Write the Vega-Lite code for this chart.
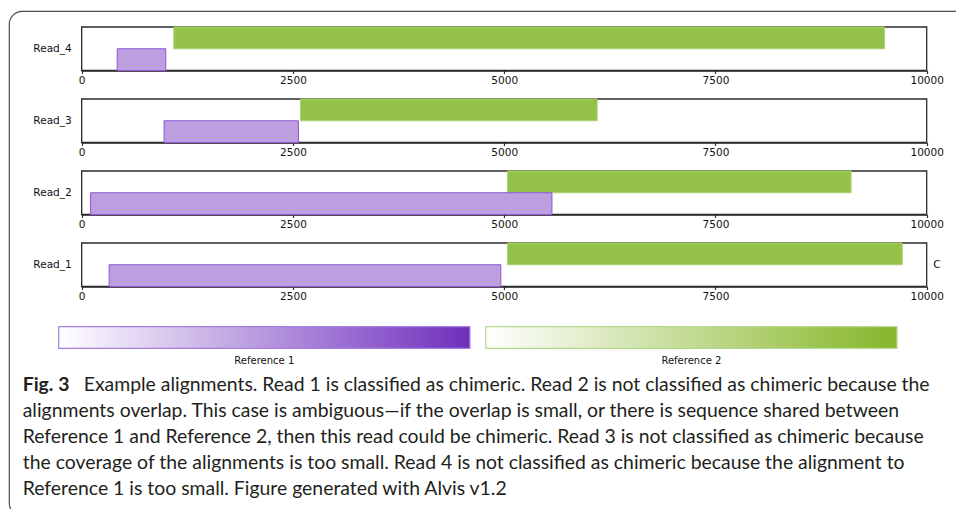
{
  "$schema": "https://vega.github.io/schema/vega-lite/v6.json",
  "description": "Example alignments of four reads against two references, with reference colour ramps and the figure caption.",
  "width": 960,
  "height": 505,
  "autosize": {"type": "none"},
  "padding": {"left": 9, "top": 11, "right": -13, "bottom": -7},
  "background": "white",
  "config": {
    "view": {"stroke": "#4d4d4d", "strokeWidth": 1.2, "cornerRadius": 13},
    "axis": {
      "domainColor": "#2b2b2b",
      "domainWidth": 1.3,
      "tickColor": "#2b2b2b",
      "tickSize": 3,
      "tickWidth": 1.2,
      "labelFont": "DejaVu Sans",
      "labelFontSize": 10.5,
      "labelColor": "#111111",
      "labelPadding": 2,
      "labelFlush": false,
      "grid": false,
      "title": null
    },
    "text": {"font": "DejaVu Sans", "fontSize": 10.5, "color": "#111111"}
  },
  "datasets": {
    "reads": [
      {"read": "Read_4"},
      {"read": "Read_3"},
      {"read": "Read_2"},
      {"read": "Read_1", "tag": "C"}
    ],
    "alignments": [
      {"read": "Read_4", "reference": "Reference 2", "start": 1090, "end": 9500},
      {"read": "Read_4", "reference": "Reference 1", "start": 420, "end": 995},
      {"read": "Read_3", "reference": "Reference 2", "start": 2590, "end": 6100},
      {"read": "Read_3", "reference": "Reference 1", "start": 975, "end": 2565},
      {"read": "Read_2", "reference": "Reference 2", "start": 5040, "end": 9105},
      {"read": "Read_2", "reference": "Reference 1", "start": 105, "end": 5565},
      {"read": "Read_1", "reference": "Reference 2", "start": 5040, "end": 9710},
      {"read": "Read_1", "reference": "Reference 1", "start": 325, "end": 4960}
    ],
    "references": [
      {"reference": "Reference 1"},
      {"reference": "Reference 2"}
    ],
    "caption": [
      {"line": 1, "lead": "Fig. 3", "text": "Example alignments. Read 1 is classified as chimeric. Read 2 is not classified as chimeric because the"},
      {"line": 2, "text": "alignments overlap. This case is ambiguous\u2014if the overlap is small, or there is sequence shared between"},
      {"line": 3, "text": "Reference 1 and Reference 2, then this read could be chimeric. Read 3 is not classified as chimeric because"},
      {"line": 4, "text": "the coverage of the alignments is too small. Read 4 is not classified as chimeric because the alignment to"},
      {"line": 5, "text": "Reference 1 is too small. Figure generated with Alvis v1.2"}
    ]
  },
  "layer": [
    {
      "layer": [
        {
          "data": {"name": "reads"},
          "transform": [{"filter": "datum.read === 'Read_4'"}],
          "mark": {"type": "rect", "fill": "white", "stroke": "#2b2b2b", "strokeWidth": 1.3},
          "encoding": {
            "x": {"datum": 0, "type": "quantitative", "scale": {"domain": [0, 10000], "range": [72.7, 917.7], "nice": false, "zero": false}, "axis": {"orient": "bottom", "offset": -445.5, "values": [0, 2500, 5000, 7500, 10000], "format": "d"}},
            "x2": {"datum": 10000},
            "y": {"field": "read", "type": "nominal", "scale": {"domain": ["Read_4", "Read_3", "Read_2", "Read_1"], "range": [16, 275.5], "paddingInner": 0.3958, "paddingOuter": 0}, "axis": null}
          }
        },
        {
          "data": {"name": "reads"},
          "transform": [{"filter": "datum.read === 'Read_3'"}],
          "mark": {"type": "rect", "fill": "white", "stroke": "#2b2b2b", "strokeWidth": 1.3},
          "encoding": {
            "x": {"datum": 0, "type": "quantitative", "axis": {"orient": "bottom", "offset": -373.5, "values": [0, 2500, 5000, 7500, 10000], "format": "d"}},
            "x2": {"datum": 10000},
            "y": {"field": "read", "type": "nominal", "axis": null}
          }
        },
        {
          "data": {"name": "reads"},
          "transform": [{"filter": "datum.read === 'Read_2'"}],
          "mark": {"type": "rect", "fill": "white", "stroke": "#2b2b2b", "strokeWidth": 1.3},
          "encoding": {
            "x": {"datum": 0, "type": "quantitative", "axis": {"orient": "bottom", "offset": -301.5, "values": [0, 2500, 5000, 7500, 10000], "format": "d"}},
            "x2": {"datum": 10000},
            "y": {"field": "read", "type": "nominal", "axis": null}
          }
        },
        {
          "data": {"name": "reads"},
          "transform": [{"filter": "datum.read === 'Read_1'"}],
          "mark": {"type": "rect", "fill": "white", "stroke": "#2b2b2b", "strokeWidth": 1.3},
          "encoding": {
            "x": {"datum": 0, "type": "quantitative", "axis": {"orient": "bottom", "offset": -229.5, "values": [0, 2500, 5000, 7500, 10000], "format": "d"}},
            "x2": {"datum": 10000},
            "y": {"field": "read", "type": "nominal", "axis": null}
          }
        },
        {
          "data": {"name": "alignments"},
          "mark": {"type": "bar", "strokeWidth": 1},
          "encoding": {
            "x": {"field": "start", "type": "quantitative", "axis": null},
            "x2": {"field": "end"},
            "y": {"field": "read", "type": "nominal", "axis": null},
            "yOffset": {"field": "reference", "type": "nominal", "scale": {"domain": ["Reference 2", "Reference 1"], "paddingInner": 0, "paddingOuter": 0}},
            "color": {"field": "reference", "type": "nominal", "scale": {"domain": ["Reference 1", "Reference 2"], "range": ["#bd9fe0", "#94c147"]}, "legend": null},
            "stroke": {"field": "reference", "type": "nominal", "scale": {"domain": ["Reference 1", "Reference 2"], "range": ["#8f56d6", "#a9d070"]}, "legend": null}
          }
        },
        {
          "data": {"name": "reads"},
          "mark": {"type": "text", "align": "right", "baseline": "middle", "dx": -10},
          "encoding": {
            "x": {"datum": 0, "type": "quantitative", "axis": null},
            "y": {"field": "read", "type": "nominal", "axis": null},
            "text": {"field": "read"}
          }
        },
        {
          "data": {"name": "reads"},
          "transform": [{"filter": "datum.tag != null"}],
          "mark": {"type": "text", "align": "left", "baseline": "middle", "dx": 6.5},
          "encoding": {
            "x": {"datum": 10000, "type": "quantitative", "axis": null},
            "y": {"field": "read", "type": "nominal", "axis": null},
            "text": {"field": "tag"}
          }
        }
      ],
      "resolve": {"axis": {"x": "independent"}}
    },
    {
      "data": {"name": "references"},
      "layer": [
        {
          "transform": [{"filter": "datum.reference === 'Reference 1'"}],
          "mark": {
            "type": "rect",
            "stroke": "#a47ee0",
            "strokeWidth": 1.2,
            "fill": {"gradient": "linear", "x1": 0, "y1": 0, "x2": 1, "y2": 0, "stops": [{"offset": 0, "color": "#ffffff"}, {"offset": 1, "color": "#6f2fbd"}]}
          },
          "encoding": {
            "x": {"field": "reference", "type": "nominal", "scale": {"domain": ["Reference 1", "Reference 2"], "range": [49.7, 888], "paddingInner": 0.0372, "paddingOuter": 0}, "axis": null},
            "y": {"datum": "ramp", "type": "nominal", "scale": {"domain": ["ramp"], "range": [315.7, 337.3], "paddingInner": 0, "paddingOuter": 0}, "axis": null}
          }
        },
        {
          "transform": [{"filter": "datum.reference === 'Reference 2'"}],
          "mark": {
            "type": "rect",
            "stroke": "#b6d88c",
            "strokeWidth": 1.2,
            "fill": {"gradient": "linear", "x1": 0, "y1": 0, "x2": 1, "y2": 0, "stops": [{"offset": 0, "color": "#ffffff"}, {"offset": 1, "color": "#86b629"}]}
          },
          "encoding": {
            "x": {"field": "reference", "type": "nominal", "axis": null},
            "y": {"datum": "ramp", "type": "nominal", "axis": null}
          }
        },
        {
          "mark": {"type": "text", "align": "center", "baseline": "alphabetic", "dy": 16, "fontSize": 10},
          "encoding": {
            "x": {"field": "reference", "type": "nominal", "axis": null},
            "y": {"datum": "ramp", "type": "nominal", "bandPosition": 1, "axis": null},
            "text": {"field": "reference"}
          }
        }
      ]
    },
    {
      "data": {"name": "caption"},
      "layer": [
        {
          "transform": [{"filter": "datum.lead != null"}],
          "mark": {"type": "text", "align": "left", "baseline": "alphabetic", "font": "Lato", "fontSize": 19.4, "fontWeight": "bold", "color": "#231f20"},
          "encoding": {
            "x": {"datum": 0, "type": "quantitative", "scale": {"domain": [0, 1], "range": [13.7, 947]}, "axis": null},
            "y": {"field": "line", "type": "ordinal", "scale": {"type": "point", "domain": [1, 2, 3, 4, 5], "range": [379.7, 483.7], "padding": 0}, "axis": null},
            "text": {"field": "lead"}
          }
        },
        {
          "transform": [{"filter": "datum.lead != null"}],
          "mark": {"type": "text", "align": "left", "baseline": "alphabetic", "font": "Lato", "fontSize": 19.4, "color": "#231f20", "dx": 61},
          "encoding": {
            "x": {"datum": 0, "type": "quantitative", "axis": null},
            "y": {"field": "line", "type": "ordinal", "axis": null},
            "text": {"field": "text"}
          }
        },
        {
          "transform": [{"filter": "datum.lead == null"}],
          "mark": {"type": "text", "align": "left", "baseline": "alphabetic", "font": "Lato", "fontSize": 19.4, "color": "#231f20"},
          "encoding": {
            "x": {"datum": 0, "type": "quantitative", "axis": null},
            "y": {"field": "line", "type": "ordinal", "axis": null},
            "text": {"field": "text"}
          }
        }
      ]
    }
  ],
  "resolve": {
    "scale": {"x": "independent", "y": "independent"},
    "axis": {"x": "independent", "y": "independent"}
  }
}
